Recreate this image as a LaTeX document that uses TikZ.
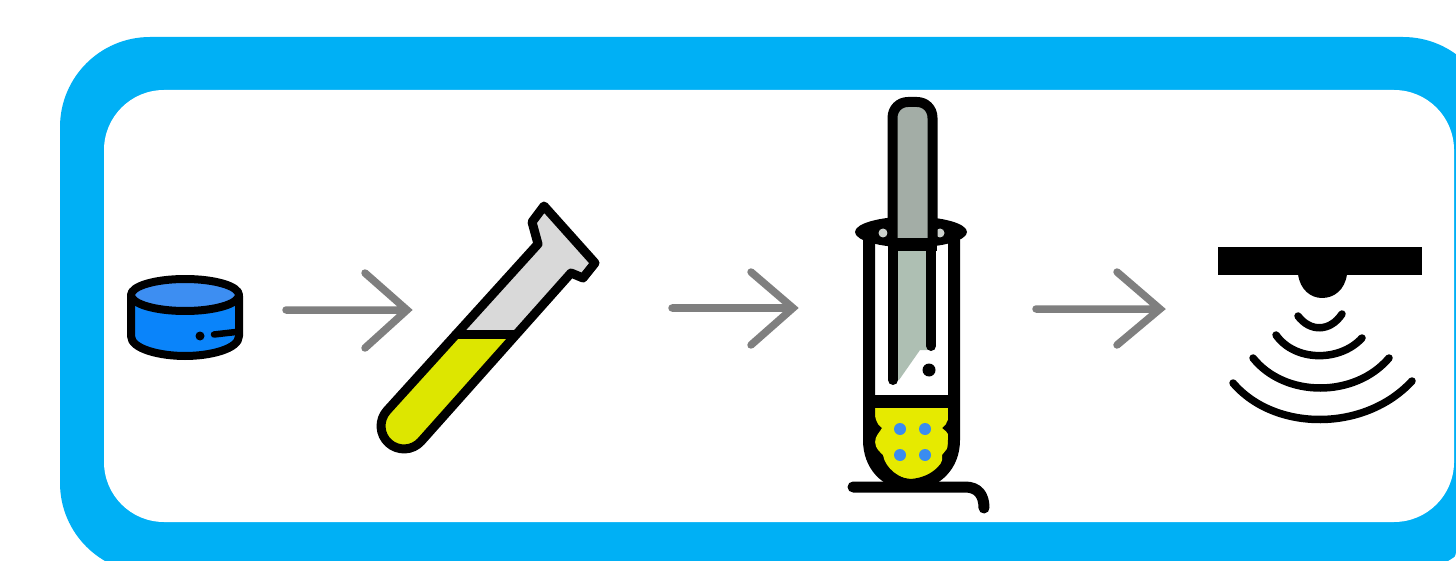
\documentclass[tikz,border=0pt]{standalone}
\definecolor{frameblue}{HTML}{00B0F5}
\definecolor{pelletside}{HTML}{0A84FA}
\definecolor{pellettop}{HTML}{3D8EF2}
\definecolor{liquid}{HTML}{DDE600}
\definecolor{liquidb}{HTML}{E6EA00}
\definecolor{tubegray}{HTML}{D9D9D9}
\definecolor{rodup}{HTML}{A3ADA6}
\definecolor{roddown}{HTML}{AEBFB3}
\definecolor{dotblue}{HTML}{3A8CF0}
\definecolor{arrowgray}{HTML}{7F7F7F}
\tikzset{
  flow/.style={draw=arrowgray,line width=7.5pt,line cap=round,line join=miter},
  ink/.style={draw=black,line join=round,line cap=round},
  wave/.style={draw=black,line width=7.5pt,line cap=round}
}
\begin{document}
\begin{tikzpicture}[x=1pt,y=-1pt]
\useasboundingbox (0,0) rectangle (1456,561);
\clip (0,0) rectangle (1456,561);
\fill[white] (0,0) rectangle (1456,561);
% frame
\fill[frameblue,rounded corners=90pt] (60,37) rectangle (1493,573);
\fill[white,rounded corners=60pt] (104,90) rectangle (1454,522);
\fill[white] (1450,561) -- (1456,561) -- (1456,553) .. controls (1455,558) and (1453,560) .. (1450,561) -- cycle;
% pellet
\path[ink,line width=8pt,fill=pelletside] (131,296) -- (131,336) .. controls (131,349) and (160,356) .. (185,356) .. controls (210,356) and (239,349) .. (239,336) -- (239,296) -- cycle;
\path[ink,line width=8pt,fill=pellettop] (185,295) ellipse [x radius=54,y radius=16];
\fill[black] (200,336) circle (4.5);
\draw[ink,line width=6.5pt] (214,334.5) -- (236,332);
% arrows
\coordinate (a1s) at (286,310); \coordinate (a1e) at (407,310);
\coordinate (a1u) at (365,273); \coordinate (a1d) at (365,348);
\draw[flow] (a1s) -- (a1e) (a1u) -- (a1e) -- (a1d);
\coordinate (a2s) at (672,308); \coordinate (a2e) at (793,308);
\coordinate (a2u) at (751,272); \coordinate (a2d) at (751,345);
\draw[flow] (a2s) -- (a2e) (a2u) -- (a2e) -- (a2d);
\coordinate (a3s) at (1036,309); \coordinate (a3e) at (1160,309);
\coordinate (a3u) at (1117,272); \coordinate (a3d) at (1117,345);
\draw[flow] (a3s) -- (a3e) (a3u) -- (a3e) -- (a3d);
% slanted tube
\fill[tubegray] (456,334) -- (538,244) -- (532,222) -- (544,206) -- (595,263) -- (583,278) -- (571,273) -- (514,334) -- cycle;
\fill[liquid] (456,334) -- (514,334) -- (421,441.4) .. controls (412.5,450.8) and (398,451.5) .. (388.6,443) .. controls (379.2,434.5) and (378.5,420) .. (387,410.6) -- cycle;
\draw[ink,line width=9pt] (456,334) -- (514,334);
\draw[ink,line width=9pt] (571,273) -- (583,278) -- (595,263) -- (544,206) -- (532,222) -- (538,244) -- (387,410.6) .. controls (378.5,420) and (379.2,434.5) .. (388.6,443) .. controls (398,451.5) and (412.5,450.8) .. (421,441.4) -- (571,273);
% upright tube: wall and contents
\fill[white] (869,232) -- (869,440) .. controls (869,465) and (885,483) .. (911,485) .. controls (937,483) and (954,465) .. (954,440) -- (954,232) -- cycle;
\fill[black] (869,400) -- (869,440) .. controls (869,465) and (885,483) .. (911,485) .. controls (937,483) and (954,465) .. (954,440) -- (954,400) -- cycle;
\fill[liquidb] (875,408) -- (948,408) .. controls (950,416) and (948,424) .. (942,428) .. controls (948,432) and (951,438) .. (950,442) .. controls (949,448) and (944,452) .. (942,455) .. controls (944,468) and (930,480) .. (915,480) .. controls (900,480) and (885,468) .. (883,455) .. controls (880,452) and (875,448) .. (875,442) .. controls (875,436) and (880,432) .. (882,428) .. controls (876,424) and (874,416) .. (875,408) -- cycle;
\fill[dotblue] (900,429) circle (6) (925,429) circle (6) (900,455) circle (6) (925,455) circle (6);
\fill[roddown] (897,250) -- (927,250) -- (927,350) -- (920,350) -- (899,380) -- (897,380) -- cycle;
\draw[ink,line width=12pt] (869,240) -- (869,440) .. controls (869,465) and (885,483) .. (911,485) .. controls (937,483) and (954,465) .. (954,440) -- (954,240);
\draw[draw=black,line width=12pt] (869,401) -- (954,401);
\draw[ink,line width=11pt] (853,487) -- (965,487) .. controls (978,487) and (984,495) .. (984,508);
\draw[ink,line width=10pt] (893,245) -- (893,380);
\draw[ink,line width=10pt] (931,245) -- (931,346);
\fill[black] (929,370) circle (6.5);
% rim
\fill[black] (911,232) ellipse [x radius=56,y radius=15.5];
\fill[black] (888,238) rectangle (937,251);
\fill[rodup!55!white] (883,233) circle (4.5) (940,233) circle (4.5);
% rod top
\path[ink,line width=10pt,fill=rodup] (892.5,238) -- (892.5,118) .. controls (892.5,108) and (900,102) .. (908,102) -- (917,102) .. controls (925,102) and (932.5,108) .. (932.5,118) -- (932.5,238);
\fill[black] (888,238) rectangle (937,251);
% sensor
\fill[black] (1218,247) rectangle (1422,275);
\fill[black] (1298,274) .. controls (1300,290) and (1311,298) .. (1322,298) .. controls (1334,298) and (1345,290) .. (1347,274) -- cycle;
\draw[wave] (1298,316) .. controls (1310,332) and (1330,332) .. (1342,314);
\draw[wave] (1276,335) .. controls (1295,362) and (1340,362) .. (1362,338);
\draw[wave] (1253,358) .. controls (1285,398) and (1355,398) .. (1389,358);
\draw[wave] (1233,383) .. controls (1275,432) and (1365,432) .. (1412,381);
\end{tikzpicture}
\end{document}
